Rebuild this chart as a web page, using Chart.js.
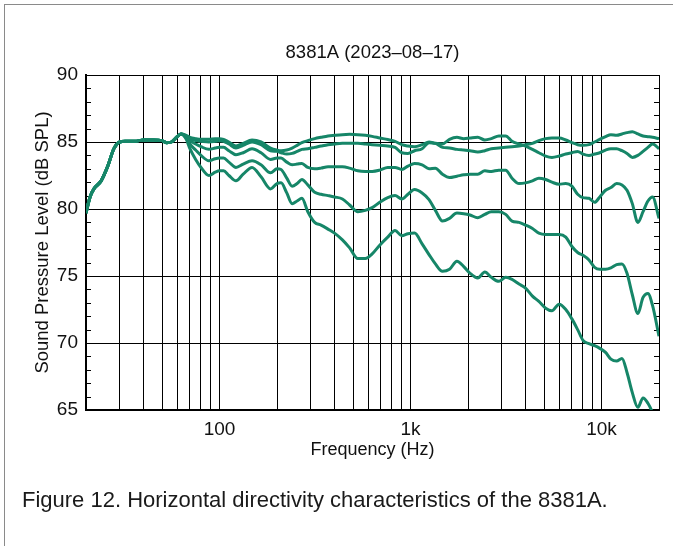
<!DOCTYPE html>
<html>
<head>
<meta charset="utf-8">
<script src="https://cdn.jsdelivr.net/npm/chart.js@4"></script>
<style>
  html, body { margin:0; padding:0; background:#fff; width:673px; height:546px; overflow:hidden; }
  #frame { position:absolute; left:4px; top:4px; width:1000px; height:1000px; border:1px solid #8a8a8a; }
  #wrap { position:absolute; left:0; top:0; width:673px; height:546px; }
  #caption { position:absolute; left:22px; top:487px; line-height:26px; font-family:"Liberation Sans", Arial, sans-serif; font-size:22px; color:#1a1a1a; white-space:nowrap; }
</style>
</head>
<body>
<div id="frame"></div>
<div id="wrap"><canvas id="c" width="673" height="546"></canvas></div>
<div id="caption">Figure 12. Horizontal directivity characteristics of the 8381A.</div>
<script>
// ---- data ----
const freqs = [20,21,22,24,26,28,30,32,36,40,45,50,53,56,60,63,67,70,75,80,88,95,100,105,112,122,133,148,165,185,200,210,225,240,255,270,290,315,340,370,400,440,480,530,580,630,690,760,830,900,970,1050,1150,1250,1350,1470,1600,1750,1900,2050,2250,2450,2650,2900,3150,3400,3700,4000,4350,4700,5100,5500,6000,6500,7000,7500,8000,8600,9200,9800,10500,11200,12000,12800,13600,14500,15500,16500,17500,18500,20000];

const curveA = [79.7,80.9,81.5,82.1,83.2,84.5,85.0,85.05,85.05,85.15,85.15,85.1,84.95,85.0,85.4,85.6,
 85.5,85.35,85.25,85.2,85.2,85.25,85.25,85.2,85.0,84.7,84.9,85.15,85.0,84.55,84.4,84.35,84.4,84.55,84.75,84.95,85.1,85.25,85.35,85.45,85.5,85.55,85.57,85.55,85.5,85.42,85.3,85.18,85.05,84.8,84.7,84.65,84.8,85.0,84.9,84.85,85.2,85.35,85.25,85.3,85.35,85.15,85.25,85.45,85.45,85.05,84.85,84.7,84.45,84.2,83.95,83.85,83.95,84.1,84.2,84.3,84.1,84.0,84.1,84.2,84.4,84.5,84.5,84.35,84.15,83.85,84.0,84.3,84.6,84.85,84.5];

const curveB = [79.7,80.9,81.5,82.1,83.2,84.5,85.0,85.05,85.05,85.15,85.15,85.1,84.95,85.0,85.4,85.6,
 85.45,85.25,85.1,85.05,85.0,85.05,85.1,85.05,84.85,84.55,84.75,85.0,84.8,84.35,84.3,84.2,84.1,84.15,84.3,84.45,84.5,84.6,84.7,84.8,84.85,84.9,84.9,84.9,84.85,84.8,84.75,84.7,84.6,84.2,84.15,84.35,84.5,84.95,84.9,84.6,84.55,84.45,84.4,84.35,84.25,84.35,84.5,84.55,84.6,84.65,84.7,84.8,84.9,85.1,85.25,85.3,85.3,85.15,84.95,84.8,84.75,84.8,85.0,85.2,85.4,85.55,85.5,85.6,85.7,85.77,85.6,85.45,85.4,85.35,85.25];

const curveC = [79.7,80.9,81.5,82.1,83.2,84.5,85.0,85.05,85.05,85.15,85.15,85.1,84.95,85.0,85.4,85.6,
 85.4,85.1,84.85,84.65,84.45,84.55,84.6,84.6,84.35,84.05,84.2,84.5,84.2,83.7,83.8,83.8,83.5,83.3,83.35,83.4,83.1,83.0,83.05,83.15,83.15,83.15,83.05,82.85,82.8,82.8,82.9,83.1,83.1,82.95,83.2,83.4,83.3,83.0,83.05,82.6,82.35,82.45,82.55,82.6,82.6,82.85,82.8,82.9,82.9,82.3,81.9,81.95,82.1,82.3,82.2,82.0,81.85,81.9,81.7,81.1,80.85,80.8,80.5,80.9,81.4,81.6,81.9,81.8,81.4,80.4,79.0,79.8,80.6,80.9,79.3];

const curveD = [79.7,80.9,81.5,82.1,83.2,84.5,85.0,85.05,85.05,85.15,85.15,85.1,84.95,85.0,85.4,85.6,
 85.3,84.85,84.4,84.0,83.6,83.75,83.8,83.8,83.5,83.1,83.35,83.6,83.3,82.7,83.0,82.95,82.3,81.7,81.9,82.2,81.8,81.25,81.1,81.0,80.9,80.75,80.3,79.8,79.9,80.1,80.5,80.85,81.0,80.75,81.1,81.45,81.2,80.7,79.9,79.1,79.3,79.7,79.65,79.55,79.35,79.6,79.8,79.8,79.6,79.1,79.0,78.8,78.55,78.2,78.1,78.1,78.1,77.9,77.2,76.75,76.55,76.2,75.65,75.5,75.5,75.6,75.85,75.9,75.2,73.6,72.2,73.4,73.7,72.8,70.5];

const curveE = [79.7,80.9,81.5,82.1,83.2,84.5,85.0,85.05,85.05,85.15,85.15,85.1,84.95,85.0,85.4,85.6,
 85.2,84.5,83.7,83.1,82.5,82.75,82.85,82.85,82.5,82.1,82.6,83.1,82.4,81.5,81.9,81.95,81.2,80.4,80.6,80.8,79.8,79.0,78.8,78.5,78.2,77.7,77.1,76.3,76.3,76.65,77.3,77.9,78.4,78.0,78.15,78.2,77.4,76.6,75.9,75.35,75.5,76.1,75.7,75.2,74.85,75.3,74.9,74.6,74.9,74.75,74.4,74.1,73.5,73.1,72.6,72.4,72.9,72.5,71.8,71.0,70.2,69.95,69.8,69.6,69.3,68.8,68.65,68.85,67.8,66.3,65.2,65.9,65.5,64.8,63.5];

const seriesValues = [curveA, curveB, curveC, curveD, curveE];
const gridFreqs = [20,30,40,50,60,70,80,90,100,200,300,400,500,600,700,800,900,1000,2000,3000,4000,5000,6000,7000,8000,9000,10000,20000];
const xLabels = {100:'100', 1000:'1k', 10000:'10k'};
const yMin = 65, yMax = 90, yStep = 5;
const chartTitle = '8381A (2023\u201308\u201317)';
const xTitle = 'Frequency (Hz)';
const yTitle = 'Sound Pressure Level (dB SPL)';

// ---- style ----
const FONT = '"Liberation Sans", Arial, Helvetica, sans-serif';
const LINE = 'rgb(22,134,104)';

const minorTicks = {
  id: 'minorTicks',
  beforeDatasetsDraw(chart) {
    const {ctx, chartArea, scales} = chart;
    const y = scales.y;
    ctx.save();
    ctx.strokeStyle = '#000';
    ctx.lineWidth = 1;
    ctx.beginPath();
    for (let v = yMin + 1; v < yMax; v++) {
      if (v % yStep === 0) continue;
      const py = Math.round(y.getPixelForValue(v)) + 0.5;
      ctx.moveTo(chartArea.left, py); ctx.lineTo(chartArea.left + 5, py);
      ctx.moveTo(chartArea.right - 5, py); ctx.lineTo(chartArea.right, py);
    }
    ctx.stroke();
    ctx.restore();
  }
};

const datasets = seriesValues.map(vals => ({
  data: freqs.map((f, i) => ({x: f, y: vals[i]})),
  borderColor: LINE,
  borderWidth: 3,
  pointRadius: 0,
  fill: false,
  cubicInterpolationMode: 'monotone'
}));

new Chart(document.getElementById('c'), {
  type: 'line',
  data: { datasets },
  plugins: [minorTicks],
  options: {
    responsive: false,
    animation: false,
    devicePixelRatio: 1,
    layout: { padding: { top: 42, left: 0, right: 14, bottom: 0 } },
    plugins: {
      legend: { display: false },
      tooltip: { enabled: false },
      title: {
        display: true, text: chartTitle, fullSize: false, color: '#111',
        font: { family: FONT, size: 18.5, weight: 'normal', lineHeight: 1.2 },
        padding: { top: 0, bottom: 10.8 }
      }
    },
    scales: {
      x: {
        type: 'logarithmic', min: 20, max: 20000,
        afterBuildTicks(s) { s.ticks = gridFreqs.map(v => ({value: v})); },
        afterFit(s) { s.height = 136; },
        ticks: {
          autoSkip: false, maxRotation: 0, minRotation: 0, padding: 8, color: '#111',
          font: { family: FONT, size: 19 },
          callback: (v) => xLabels[v] || ''
        },
        grid: { color: '#000', lineWidth: 1, drawTicks: false },
        border: { display: true, color: '#000', width: 2 },
        title: {
          display: true, text: xTitle, color: '#111',
          font: { family: FONT, size: 18, lineHeight: 1.2 },
          padding: { top: 0, bottom: 85.2 }
        }
      },
      y: {
        min: yMin, max: yMax,
        afterFit(s) { s.width = 86; },
        ticks: { stepSize: yStep, padding: 8, color: '#111', font: { family: FONT, size: 19 } },
        grid: { color: '#000', lineWidth: 1, drawTicks: false },
        border: { display: true, color: '#000', width: 2 },
        title: {
          display: true, text: yTitle, color: '#111',
          font: { family: FONT, size: 18.5, lineHeight: 1.2 },
          padding: { top: 31.4, bottom: 0 }
        }
      }
    }
  }
});
</script>
</body>
</html>
